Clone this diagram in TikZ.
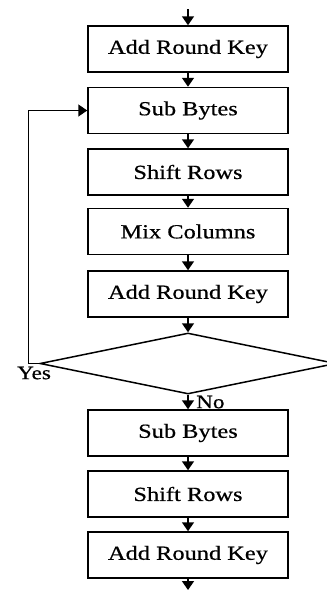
\documentclass[tikz,border=0pt]{standalone}
\usepackage{fontspec}
\setmainfont{Liberation Serif}
\newfontfamily\widefont[FakeStretch=1.22,FakeBold=0.6]{Liberation Serif}
\usetikzlibrary{arrows.meta,shapes.geometric}
\tikzset{
  stagebox/.style={draw, line width=1.5pt, minimum width=200pt, minimum height=46pt,
    inner sep=0pt, font=\widefont\fontsize{20}{23}\selectfont},
  decision/.style={draw, diamond, line width=1.5pt, minimum width=296pt, minimum height=61pt,
    inner sep=0pt},
  flow/.style={line width=1.5pt, -{Triangle[width=12pt,length=9pt]}},
  tag/.style={inner sep=0pt, font=\widefont\fontsize{19}{21}\selectfont}
}
\begin{document}
\begin{tikzpicture}[x=1pt,y=-1pt]
  \clip (0,0) rectangle (327,590);
  \fill[white] (0,0) rectangle (327,590);

  % initial round
  \coordinate (in) at (188,9);
  \node[stagebox] (ark0) at (188,49) {Add Round Key};

  % main rounds
  \node[stagebox] (sb) at (188,110.5) {Sub Bytes};
  \node[stagebox] (sr) at (188,172) {Shift Rows};
  \node[stagebox] (mc) at (188,231.5) {Mix Columns};
  \node[stagebox] (ark) at (188,294) {Add Round Key};
  \node[decision] (loop) at (188,363.5) {};

  % final round
  \node[stagebox] (sbf) at (188,433) {Sub Bytes};
  \node[stagebox] (srf) at (188,494) {Shift Rows};
  \node[stagebox] (arkf) at (188,555) {Add Round Key};
  \coordinate (out) at (188,590);

  \draw[flow] (in) -- (ark0);
  \draw[flow] (ark0) -- (sb);
  \draw[flow] (sb) -- (sr);
  \draw[flow] (sr) -- (mc);
  \draw[flow] (mc) -- (ark);
  \draw[flow] (ark) -- (loop);
  \draw[flow] (loop) -- (sbf);
  \draw[flow] (sbf) -- (srf);
  \draw[flow] (srf) -- (arkf);
  \draw[flow] (arkf) -- (out);

  % repeat path
  \coordinate (back) at (28.5,363.5);
  \draw[flow] (loop.west) -- (back) |- (sb.west);

  \node[tag, anchor=west] (yes) at (17,373) {Yes};
  \node[tag, anchor=west] (no) at (196,402) {No};
\end{tikzpicture}
\end{document}
